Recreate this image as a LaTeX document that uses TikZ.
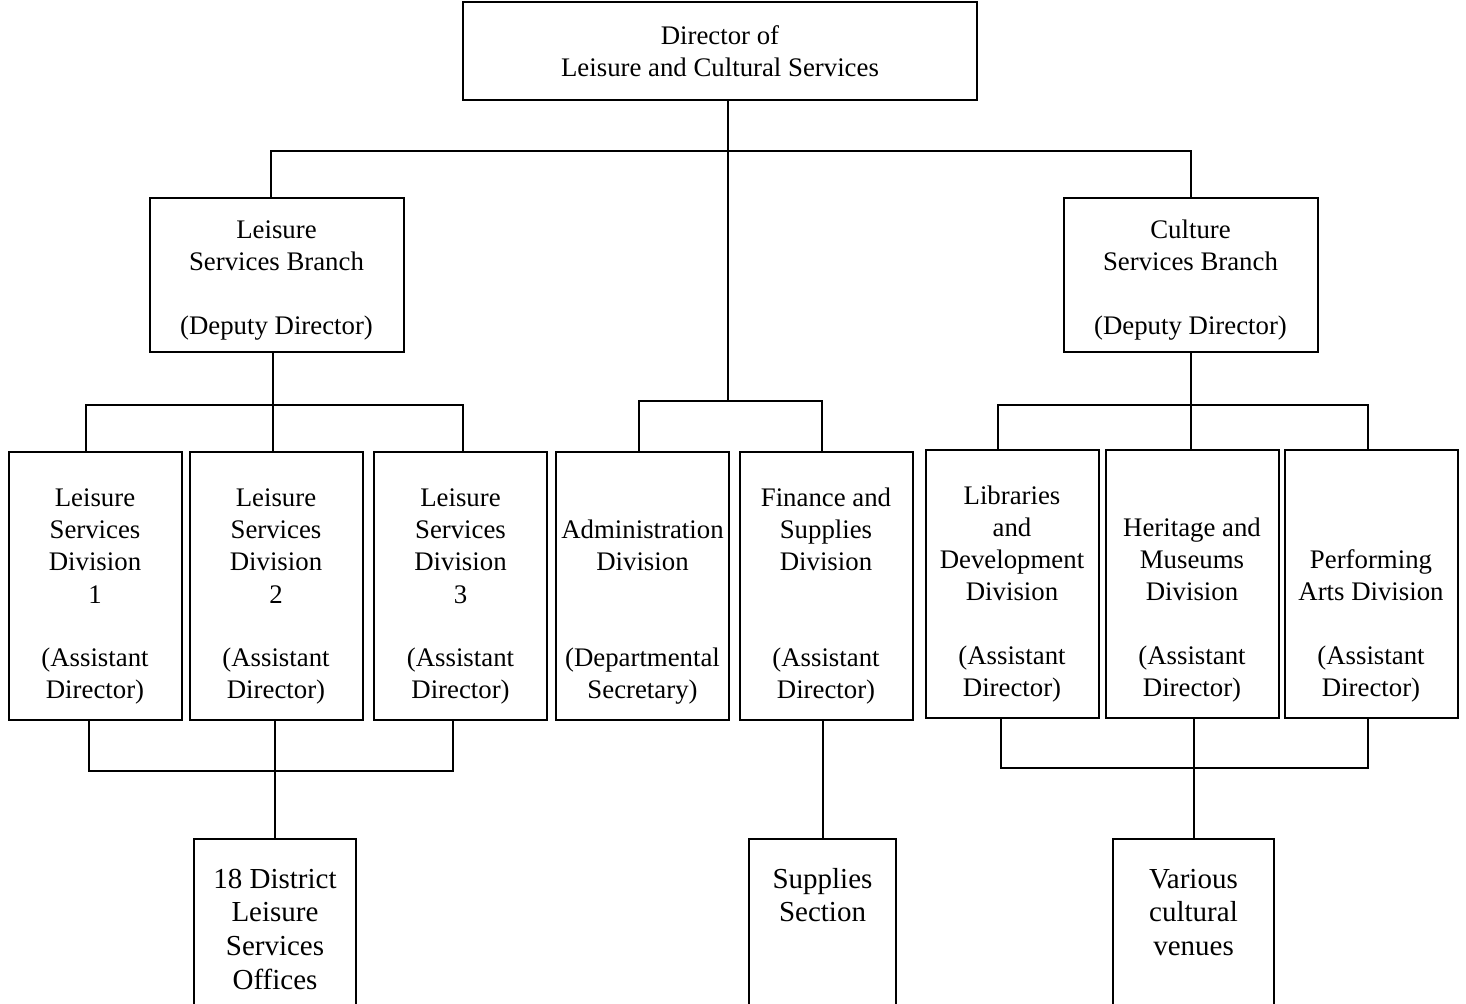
\documentclass[tikz,border=0pt]{standalone}
\usepackage{fontspec}
\setmainfont{Liberation Serif}
\usepackage{tikz}

\newcommand{\unittext}[1]{\parbox[c][123.5pt][b]{86.5pt}{\centering #1\rule[-10.5pt]{0pt}{0pt}}}
\newcommand{\sitetext}[2]{\parbox[c][100pt][t]{#1}{\centering\fontsize{14.5}{16.9}\selectfont\rule{0pt}{24.5pt}#2}}

\begin{document}
\begin{tikzpicture}[
        x=0.5pt, y=-0.5pt,
        line width=1pt,
        every node/.style={draw, rectangle, inner sep=0pt, align=center, font=\fontsize{13.4}{16}\selectfont},
        headbox/.style={minimum width=257pt, minimum height=49pt},
        branchbox/.style={minimum width=127pt, minimum height=77pt},
        sitebox/.style={anchor=north}
    ]
        \useasboundingbox (0,0) rectangle (1466,1004);
        \clip (0,0) rectangle (1466,1004);

        % Nodes
        \node[headbox] (director) at (720,51) {Director of\\Leisure and Cultural Services};
        \node[branchbox] (leisure) at (276.5,275) {\rule{0pt}{14pt}Leisure\\Services Branch\\~\\(Deputy Director)};
        \node[branchbox] (culture) at (1190.5,275) {\rule{0pt}{14pt}Culture\\Services Branch\\~\\(Deputy Director)};

        \node (lsd1) at (95,586) {\unittext{Leisure\\Services\\Division\\1\\~\\(Assistant\\Director)}};
        \node (lsd2) at (276,586) {\unittext{Leisure\\Services\\Division\\2\\~\\(Assistant\\Director)}};
        \node (lsd3) at (460.5,586) {\unittext{Leisure\\Services\\Division\\3\\~\\(Assistant\\Director)}};
        \node (admin) at (642.5,586) {\unittext{Administration\\Division\\~\\~\\(Departmental\\Secretary)}};
        \node (finance) at (826,586) {\unittext{Finance and\\Supplies\\Division\\~\\~\\(Assistant\\Director)}};
        \node (libraries) at (1012,584) {\unittext{Libraries\\and\\Development\\Division\\~\\(Assistant\\Director)}};
        \node (heritage) at (1192,584) {\unittext{Heritage and\\Museums\\Division\\~\\(Assistant\\Director)}};
        \node (arts) at (1371,584) {\unittext{Performing\\Arts Division\\~\\(Assistant\\Director)}};

        \node[sitebox] (offices) at (275,838) {\sitetext{81pt}{18 District\\Leisure\\Services\\Offices}};
        \node[sitebox] (supplies) at (822.5,838) {\sitetext{73.5pt}{Supplies\\Section}};
        \node[sitebox] (venues) at (1193.5,838) {\sitetext{80.5pt}{Various\\cultural\\venues}};

        % Lines
        \draw ([xshift=4pt]director.south) -- ++(0,50) coordinate (topbus);
        \draw ([xshift=-3pt]leisure.north) |- (topbus) -| (culture.north);
        \draw (topbus) -- ++(0,250) coordinate (midbus);
        \draw ([xshift=-2pt]admin.north) |- (midbus) -| ([xshift=-2pt]finance.north);

        \draw ([xshift=-2pt]leisure.south) -- ++(0,52) coordinate (lbus);
        \draw ([xshift=-4.5pt]lsd1.north) |- (lbus) -| ([xshift=1pt]lsd3.north);
        \draw (lbus) -- (lbus |- lsd2.north);
        \draw ([xshift=-3pt]lsd1.south) -- ++(0,50) -| ([xshift=-4pt]lsd3.south);
        \draw (lsd2.south -| offices.north) -- (offices.north);

        \draw (finance.south -| supplies.north) -- (supplies.north);

        \draw (culture.south) -- ++(0,52) coordinate (cbus);
        \draw ([xshift=-7pt]libraries.north) |- (cbus) -| ([xshift=-1.5pt]arts.north);
        \draw (cbus) -- (cbus |- heritage.north);
        \draw ([xshift=-5.5pt]libraries.south) -- ++(0,49) -| ([xshift=-1.5pt]arts.south);
        \draw (heritage.south -| venues.north) -- (venues.north);
\end{tikzpicture}
\end{document}
